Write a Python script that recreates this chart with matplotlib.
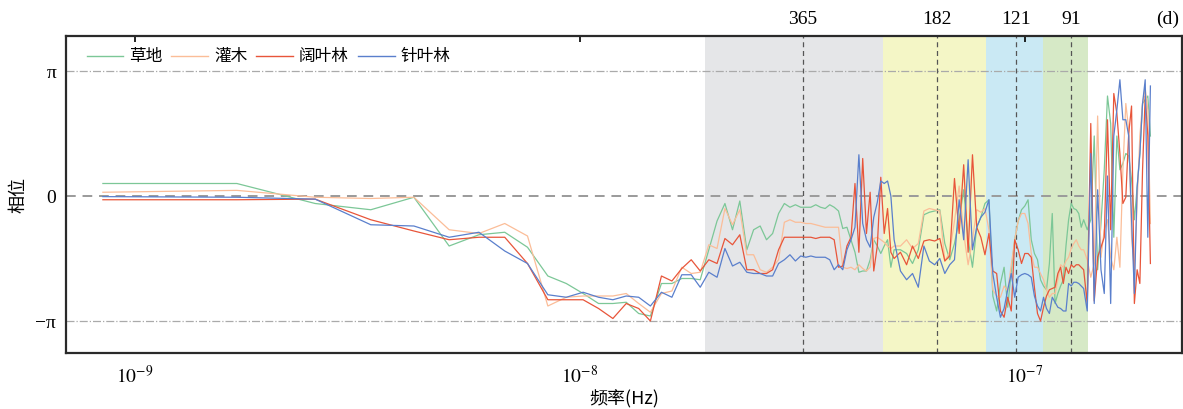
import matplotlib
matplotlib.use('Agg')
import numpy as np
from matplotlib import pyplot as plt
from matplotlib import transforms
from matplotlib.ticker import NullLocator, NullFormatter

plt.rcParams['font.family'] = ['Liberation Serif', 'Noto Sans CJK SC']
plt.rcParams['mathtext.fontset'] = 'stix'

# base frequency of the spectrum (Hz) and harmonic numbers that were read
f0 = 8.47e-10
harmonics = list(range(1, 61)) + list(range(62, 160, 2)) + list(range(160, 227, 3))

# phase in units of pi
grass = [
    0.10, 0.10, -0.06, -0.11, -0.01,
    -0.40, -0.31, -0.29, -0.41, -0.64, -0.70, -0.78, -0.86, -0.86, -0.85, -0.94, -0.96, -0.70, -0.70, -0.66, -0.66, -0.67, -0.43, -0.20,
    -0.06, -0.27, -0.04, -0.43, -0.27, -0.24, -0.35, -0.30, -0.14, -0.06, -0.09, -0.07, -0.09, -0.09, -0.09, -0.07, -0.09, -0.10, -0.07, -0.09,
    -0.12, -0.26, -0.25, -0.35, -0.45, -0.61, -0.60, -0.60, -0.51, -0.35, -0.40, -0.46, -0.40, -0.35, -0.57, -0.43,
    -0.43, -0.46, -0.54, -0.43, -0.15, -0.13, -0.12, -0.11, -0.38, -0.51,
    -0.38, -0.19, 0.05, -0.35, -0.57, -0.25, -0.17, -0.06, -0.03, -0.80,
    -0.92, -0.70, -0.57, -0.89, -0.60, -0.35, -0.20, -0.11, -0.08, -0.03,
    -0.35, -0.46, -0.51, -0.67, -0.72, -0.75, -0.54, -0.14, -0.86, -0.78,
    -0.72, -0.67, -0.40, -0.19, -0.06, -0.10, -0.11, -0.14, -0.25,
    -0.19, -0.27, -0.19, 0.48, -0.59, -0.22, 0.21, 0.80, 0.58, -0.33, 0.48, 0.21,
    0.26, 0.34, 0.32, 0.13, -0.19, 0.07, 0.34, 0.74, 0.77, 0.80, 0.48,
]
shrub = [
    0.03, 0.045, -0.01, -0.02, -0.01,
    -0.27, -0.30, -0.22, -0.32, -0.88, -0.81, -0.80, -0.80, -0.80, -0.78, -0.86, -0.93, -0.78, -0.76, -0.57, -0.62, -0.61, -0.39, -0.42,
    -0.10, -0.23, -0.11, -0.47, -0.47, -0.59, -0.61, -0.57, -0.51, -0.21, -0.19, -0.21, -0.21, -0.22, -0.22, -0.23, -0.24, -0.25, -0.25, -0.25,
    -0.25, -0.57, -0.58, -0.57, -0.59, -0.55, -0.58, -0.60, -0.57, -0.34, -0.33, -0.35, -0.37, -0.40, -0.42, -0.40,
    -0.40, -0.35, -0.42, -0.38, -0.12, -0.10, -0.11, -0.12, -0.52, -0.45,
    -0.20, 0.08, -0.30, -0.55, -0.35, -0.11, -0.13, -0.10, -0.27, -0.75,
    -0.80, -0.81, -0.72, -0.76, -0.55, -0.35, -0.20, -0.14, -0.14, -0.22,
    -0.46, -0.57, -0.57, -0.62, -0.67, -0.75, -0.81, -0.78, -0.78, -0.67,
    -0.55, -0.57, -0.52, -0.49, -0.42, -0.38, -0.35, -0.40, -0.43,
    -0.43, -0.51, -0.65, -0.54, 0.64, -0.49, -0.27, -0.19, -0.49, -0.59, -0.33, -0.57,
    0.21, 0.74, 0.53, -0.33, -0.59, -0.06, 0.48, 0.74, 0.86, 0.69, -0.22,
]
broadleaf = [
    -0.03, -0.03, -0.025, -0.19, -0.28,
    -0.35, -0.33, -0.33, -0.54, -0.83, -0.83, -0.83, -0.90, -0.98, -0.86, -0.90, -1.00, -0.64, -0.68, -0.58, -0.51, -0.60, -0.51, -0.54,
    -0.34, -0.39, -0.31, -0.59, -0.59, -0.62, -0.62, -0.59, -0.43, -0.33, -0.33, -0.33, -0.33, -0.33, -0.33, -0.34, -0.33, -0.33, -0.33, -0.35,
    -0.57, -0.56, -0.40, -0.33, 0.10, -0.45, 0.30, -0.30, 0.03, -0.60, -0.40, 0.15, -0.30, -0.10, -0.45, -0.50,
    -0.45, -0.55, -0.40, -0.50, -0.36, -0.35, -0.36, -0.34, -0.52, -0.48,
    0.14, -0.30, 0.25, -0.45, 0.33, -0.25, -0.33, -0.47, -0.30, -0.60,
    -0.62, -0.92, -0.97, -0.81, -0.92, -0.35, -0.43, -0.54, -0.46, -0.46,
    -0.49, -0.73, -0.94, -1.00, -0.89, -0.80, -0.75, -0.74, -0.73, -0.62,
    -0.57, -0.70, -0.57, -0.62, -0.55, -0.57, -0.55, -0.55, -0.57,
    -0.59, -0.86, 0.58, -0.84, -0.49, -0.41, -0.33, 0.61, -0.27, 0.82, 0.66, 0.34,
    -0.06, -0.01, 0.50, 0.72, -0.86, -0.59, -0.70, 0.21, 0.80, 0.48, -0.54,
]
conifer = [
    -0.005, -0.01, -0.025, -0.23, -0.24,
    -0.33, -0.29, -0.44, -0.54, -0.79, -0.81, -0.77, -0.81, -0.83, -0.80, -0.81, -0.88, -0.77, -0.81, -0.63, -0.63, -0.73, -0.61, -0.65,
    -0.42, -0.56, -0.53, -0.61, -0.62, -0.62, -0.64, -0.64, -0.54, -0.51, -0.47, -0.52, -0.48, -0.49, -0.48, -0.49, -0.49, -0.49, -0.51, -0.59,
    -0.55, -0.59, -0.43, -0.35, -0.25, 0.33, -0.22, -0.35, -0.41, -0.17, -0.05, 0.12, 0.10, 0.12, 0.0, -0.35,
    -0.60, -0.67, -0.62, -0.73, -0.40, -0.52, -0.55, -0.50, -0.62, -0.55,
    -0.51, -0.03, -0.35, 0.29, -0.43, -0.25, -0.17, -0.13, -0.03, -0.62,
    -0.81, -0.97, -0.90, -0.75, -0.62, -0.81, -0.65, -0.63, -0.62, -0.63,
    -0.65, -0.80, -0.88, -0.92, -0.81, -0.90, -0.94, -0.81, -0.85, -0.89,
    -0.90, -0.92, -0.92, -0.70, -0.72, -0.69, -0.69, -0.70, -0.72,
    -0.74, -0.92, 0.34, -0.86, 0.05, -0.59, -0.78, 0.16, -0.86, 0.48, 0.69, 0.93,
    0.61, 0.61, 0.48, -0.19, -0.78, 0.07, 0.34, 0.74, 0.93, -0.33, 0.88,
]

series_names = ['草地', '灌木', '阔叶林', '针叶林']
series_colors = ['#7cc797', '#fbbd98', '#e8553a', '#5a7fcc']

# shaded frequency bands (Hz)
band_edges = [1.91e-8, 4.80e-8, 8.17e-8, 1.098e-7, 1.387e-7]
band_colors = ['#e5e6e8', '#f4f6c6', '#cae9f4', '#d6e9c6']

# marked periods (days)
period_days = [365, 182, 121, 91]

# x tick decades
x_ticks = [1e-9, 1e-8, 1e-7]

freq = np.array(harmonics) * f0

fig = plt.figure(figsize=(11.83, 4.09), dpi=100)
ax = fig.add_axes([66 / 1183, 1 - 353 / 409, 1116 / 1183, 317 / 409])

for i, c in enumerate(band_colors):
    ax.axvspan(band_edges[i], band_edges[i + 1], color=c, lw=0, zorder=0)

ax.axhline(0, color='#9a9a9a', lw=1.4, ls=(0, (5, 3.5)), zorder=1)
ax.axhline(np.pi, color='#aaaaaa', lw=0.9, ls='-.', zorder=1)
ax.axhline(-np.pi, color='#aaaaaa', lw=0.9, ls='-.', zorder=1)

period_freq = [1 / (d * 86400) for d in period_days]
trans = transforms.blended_transform_factory(ax.transData, ax.transAxes)
for d, f in zip(period_days, period_freq):
    ax.axvline(f, color='#555555', lw=0.9, ls=(0, (4, 3)), zorder=1)
    ax.text(f, 1.025, str(d), transform=trans, ha='center', va='bottom', fontsize=14)
ax.text(0.987, 1.025, '(d)', transform=ax.transAxes, ha='center', va='bottom', fontsize=14)

for vals, name, c in zip([grass, shrub, broadleaf, conifer], series_names, series_colors):
    ax.plot(freq, np.array(vals) * np.pi, color=c, lw=0.9, label=name, zorder=3)

ax.set_xscale('log')
ax.set_xlim(10 ** -9.155, 10 ** -6.647)
ax.set_ylim(-1.256 * np.pi, 1.28 * np.pi)
ax.set_xticks(x_ticks)
ax.set_xticklabels([r'$10^{%d}$' % round(np.log10(t)) for t in x_ticks])
ax.xaxis.set_minor_locator(NullLocator())
ax.xaxis.set_minor_formatter(NullFormatter())

ax.set_yticks([-np.pi, 0, np.pi])
ax.set_yticklabels(['−π', '0', 'π'], fontsize=14)
ax.tick_params(axis='y', length=0, pad=7)
ax.tick_params(axis='x', which='major', direction='in', length=4, width=1.2,
               bottom=False, top=True, labelsize=14, pad=9)

for s in ax.spines.values():
    s.set_linewidth(1.6)
    s.set_color('#2a2a2a')

ax.set_xlabel('频率(Hz)', fontsize=13, family=['Noto Sans CJK SC'])
ax.xaxis.label.set_va('center')
ax.xaxis.set_label_coords(0.5, -0.145)
ax.set_ylabel('相位', fontsize=13, family=['Noto Sans CJK SC'])
ax.yaxis.label.set_va('center')
ax.yaxis.set_label_coords(-0.043, 0.5)

leg = ax.legend(loc='center left', bbox_to_anchor=(0.005, 0.934), ncol=4, frameon=False,
                handlelength=2.2, handletextpad=0.35, columnspacing=0.55,
                prop={'family': ['Noto Sans CJK SC'], 'size': 12})
for line in leg.get_lines():
    line.set_linewidth(1.0)

fig.savefig('out.png', dpi=100)
